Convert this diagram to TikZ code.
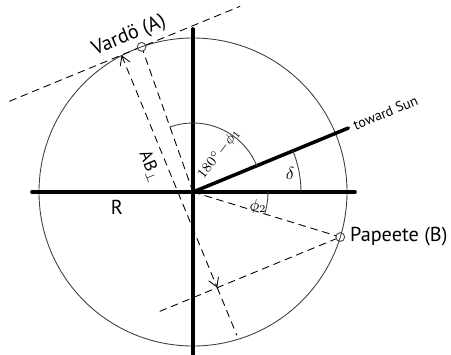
\documentclass[tikz,border=0pt]{standalone}
\usepackage{amsmath,amssymb}
\usepackage{fontspec}
\setsansfont{PT Sans}
\usepackage{tikz}
\usetikzlibrary{arrows.meta,calc,positioning}
\tikzset{
  axisl/.style={line width=2pt},
  thinl/.style={line width=0.5pt, black!75},
  dashl/.style={dash pattern=on 4pt off 3pt, line width=0.5pt},
  stn/.style={circle, draw, black!75, line width=0.5pt, inner sep=0pt, minimum size=5pt},
  lbl/.style={font=\sffamily\fontsize{11.5}{13}\selectfont},
  every picture/.style={line cap=round, line join=round}
}

\begin{document}
\begin{tikzpicture}[scale=0.02]
    \useasboundingbox (-193,-162) rectangle (258,192);
    \coordinate (O) at (0,0);
    \draw[thinl] (O) circle (154);

    \node[stn] (A) at (109.5:154) {};
    \node[stn] (B) at (-17:154) {};

    \begin{scope}[rotate=22.4]
      \coordinate (a1) at (-135,153.8);
      \coordinate (a2) at (114,153.8);
      \coordinate (b1) at (-76,-97.7);
      \coordinate (pa) at (-14,153.8);
      \coordinate (pb) at (-14,-97.7);
      \coordinate (pe) at (-14,-149);
      \coordinate (sun) at (168,0);
    \end{scope}

    \draw[dashl] (a1) -- (A) -- (a2);
    \draw[dashl] (b1) -- (B);
    \draw[dashl] (O) -- (A) (O) -- (B);
    \draw[dashl, {Straight Barb[length=5pt,width=6pt]}-{Straight Barb[length=5pt,width=6pt]}] (pa) -- (pb);
    \draw[dashl] (pb) -- (pe);

    \coordinate (xl) at (-161,0);
    \coordinate (xr) at (162,0);
    \coordinate (yt) at (0,163);
    \coordinate (yb) at (0,-162);
    \draw[axisl] (xl) -- (xr) (yt) -- (yb);
    \draw[axisl] (O) -- (sun);

    \draw[thinl] (0:108) arc (0:22.4:108);
    \draw[thinl] (22.4:69) arc (22.4:109.5:69);
    \draw[thinl] (-17:75) arc (-17:0:75);

    \node[lbl, rotate=22.4] (va) at (-64,156) {Vardö (A)};
    \node[lbl, anchor=west] (pp) at (151,-45) {Papeete (B)};
    \node[lbl] (rl) at (-76,-15) {R};
    \node[font=\sffamily\footnotesize, rotate=22.4, anchor=west] (ts) at (sun) {toward Sun};
    \node (dl) at (97,19) {$\delta$};
    \node[font=\footnotesize, rotate=52] (ph1) at (26,38) {$180^\circ\!-\!\phi_1$};
    \node[font=\small] (ph2) at (65,-15) {$\phi_2$};
    \node[rotate=-67.6] (ab) at (-43,25) {\sffamily AB$_\perp$};
  \end{tikzpicture}
\end{document}
